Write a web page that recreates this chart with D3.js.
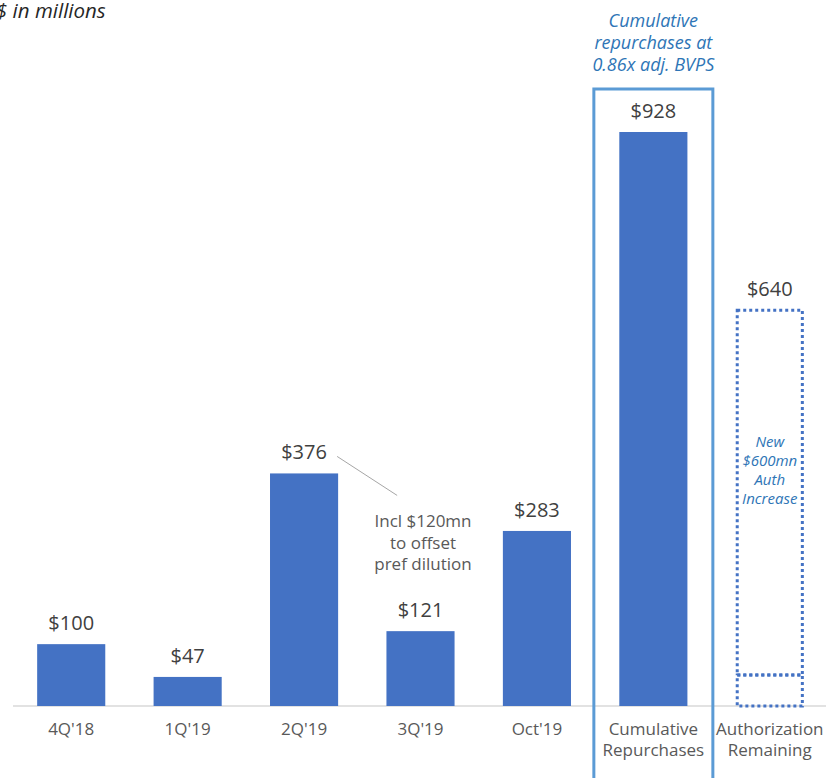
<!DOCTYPE html>
<html>
<head>
<meta charset="utf-8">
<script src="https://cdn.jsdelivr.net/npm/d3@7"></script>
<style>
  body { margin: 0; background: #fff; }
  svg { display: block; font-family: "Open Sans", Lato, sans-serif; }
</style>
</head>
<body>
<div id="chart"></div>
<script>
// data
var categories = ["4Q'18", "1Q'19", "2Q'19", "3Q'19", "Oct'19", "Cumulative\nRepurchases", "Authorization\nRemaining"];
var repurchases = [100, 47, 376, 121, 283, 928];
var authSegments = [50, 590]; // existing remaining, new $600mn increase
var valueLabels = ["$100", "$47", "$376", "$121", "$283", "$928", "$640"];

var width = 826, height = 778;

var svg = d3.select("#chart").append("svg")
    .attr("width", width)
    .attr("height", height);

var x = d3.scaleBand()
    .domain(categories)
    .range([13, 828])
    .paddingInner(0.415)
    .paddingOuter(0.2075);

var y = d3.scaleLinear()
    .domain([0, 928])
    .range([706, 132]);

var blue = "#4472c4";
var grey = "#595959";

// units note (cut at the left edge, as in the source)
svg.append("text")
    .attr("x", -4).attr("y", 18)
    .attr("font-size", 20.5).attr("font-style", "italic")
    .attr("fill", "#262626")
    .text("$ in millions");

// baseline
svg.append("line")
    .attr("x1", 13).attr("x2", width)
    .attr("y1", y(0)).attr("y2", y(0))
    .attr("stroke", "#d9d9d9").attr("stroke-width", 1.5);

// solid bars
svg.selectAll(".bar")
    .data(repurchases)
    .enter().append("rect")
    .attr("class", "bar")
    .attr("x", function(d, i) { return x(categories[i]); })
    .attr("y", function(d) { return y(d); })
    .attr("width", x.bandwidth())
    .attr("height", function(d) { return y(0) - y(d); })
    .attr("fill", blue);

// dotted authorization stack
var authCat = categories[6];
var stackBase = 0;
authSegments.forEach(function(v) {
    svg.append("rect")
        .attr("x", x(authCat) + 1.5)
        .attr("y", y(stackBase + v))
        .attr("width", x.bandwidth() - 3)
        .attr("height", y(stackBase) - y(stackBase + v))
        .attr("fill", "none")
        .attr("stroke", blue)
        .attr("stroke-width", 3)
        .attr("stroke-dasharray", "3,3");
    stackBase += v;
});

// value labels
var totals = repurchases.concat([d3.sum(authSegments)]);
svg.selectAll(".val")
    .data(totals)
    .enter().append("text")
    .attr("class", "val")
    .attr("x", function(d, i) { return x(categories[i]) + x.bandwidth() / 2; })
    .attr("y", function(d) { return y(d) - 14; })
    .attr("text-anchor", "middle")
    .attr("font-size", 20)
    .attr("fill", "#404040")
    .text(function(d, i) { return valueLabels[i]; });

// category labels
svg.selectAll(".cat")
    .data(categories)
    .enter().append("text")
    .attr("class", "cat")
    .attr("x", function(d) { return x(d) + x.bandwidth() / 2; })
    .attr("y", 735)
    .attr("text-anchor", "middle")
    .attr("font-size", 17)
    .attr("fill", grey)
    .each(function(d) {
        var t = d3.select(this);
        d.split("\n").forEach(function(line, k) {
            t.append("tspan")
                .attr("x", t.attr("x"))
                .attr("dy", k === 0 ? 0 : 21)
                .text(line);
        });
    });

// highlight frame around cumulative bar
var cumX = x(categories[5]) + x.bandwidth() / 2;
svg.append("rect")
    .attr("x", cumX - 59.5)
    .attr("y", 89)
    .attr("width", 119)
    .attr("height", 700)
    .attr("fill", "none")
    .attr("stroke", "#5b9bd5")
    .attr("stroke-width", 3);

function multiline(lines, cx, y0, lh, size, color, italic) {
    var t = svg.append("text")
        .attr("text-anchor", "middle")
        .attr("font-size", size)
        .attr("fill", color)
        .attr("font-style", italic ? "italic" : "normal");
    lines.forEach(function(line, k) {
        t.append("tspan").attr("x", cx).attr("y", y0 + k * lh).text(line);
    });
}

multiline(["Cumulative", "repurchases at", "0.86x adj. BVPS"], cumX, 27, 22, 18, "#2e75b6", true);

var authX = x(authCat) + x.bandwidth() / 2;
multiline(["New", "$600mn", "Auth", "Increase"], authX, 447, 19, 15, "#2e75b6", true);

// annotation on 2Q'19
var q2 = x(categories[2]) + x.bandwidth();
svg.append("line")
    .attr("x1", q2 - 1).attr("y1", y(376) - 17)
    .attr("x2", q2 + 59).attr("y2", y(376) + 22)
    .attr("stroke", "#a6a6a6").attr("stroke-width", 1);
multiline(["Incl $120mn", "to offset", "pref dilution"], 423, 527, 21.5, 17, grey, false);
</script>
</body>
</html>
